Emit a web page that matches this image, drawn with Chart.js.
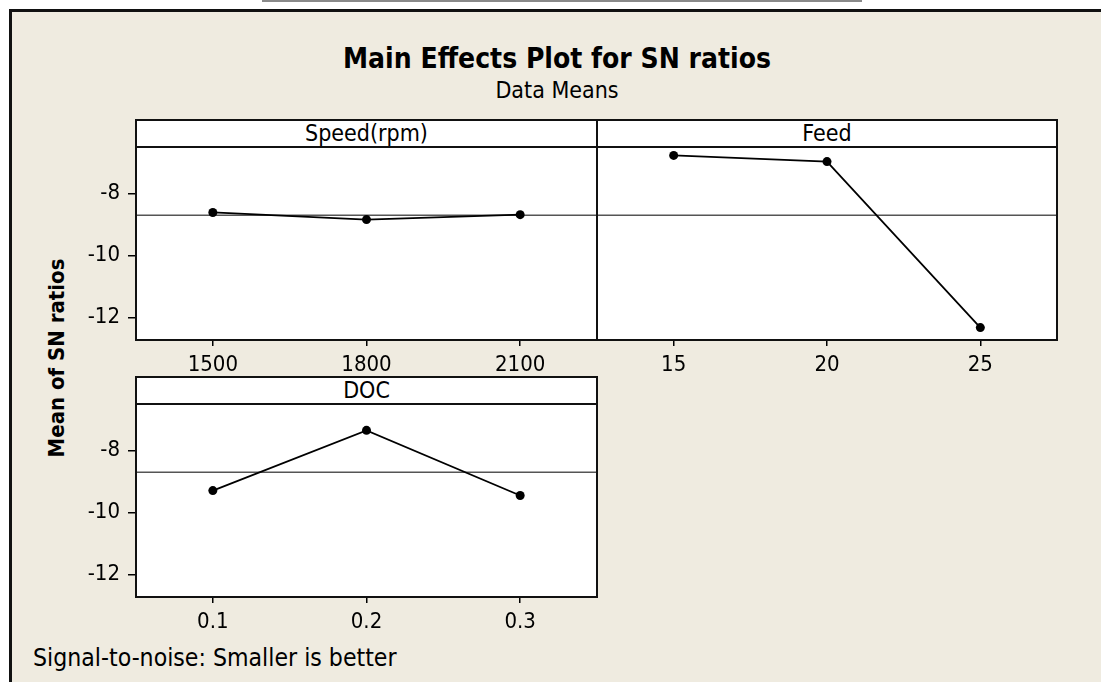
<!DOCTYPE html>
<html>
<head>
<meta charset="utf-8">
<script src="https://cdn.jsdelivr.net/npm/chart.js@4/dist/chart.umd.min.js"></script>
<style>
body{margin:0;background:#fff;width:1101px;height:682px;overflow:hidden;position:relative;font-family:'DejaVu Sans Condensed','DejaVu Sans',sans-serif;color:#000}
#topline{position:absolute;left:262px;top:0;width:600px;height:2px;background:#8a8a8a}
#frame{position:absolute;left:9px;top:9px;width:1200px;height:800px;border-left:3px solid #111;border-top:3px solid #111;background:#efebe0}
.hdr{position:absolute;background:#fff;border:2px solid #111;box-sizing:border-box;text-align:center;font-size:23px;line-height:25px;height:29px}
.txt{position:absolute;white-space:nowrap}
canvas{position:absolute}
</style>
</head>
<body>
<div id="topline"></div>
<div id="frame"></div>
<div class="txt" style="left:0;width:1114px;text-align:center;top:43px;line-height:32px;font-size:28px;font-weight:bold">Main Effects Plot for SN ratios</div>
<div class="txt" style="left:0;width:1114px;text-align:center;top:77px;line-height:26px;font-size:23px">Data Means</div>
<div class="txt" style="left:-73px;top:346px;width:260px;height:24px;line-height:24px;text-align:center;font-size:22px;font-weight:bold;transform:rotate(-90deg)">Mean of SN ratios</div>
<div class="txt" style="left:33px;top:644px;line-height:28px;font-size:24.6px">Signal-to-noise: Smaller is better</div>

<canvas id="speed"></canvas>
<canvas id="feed"></canvas>
<canvas id="doc"></canvas>

<div class="hdr" style="left:135px;top:119px;width:463px">Speed(rpm)</div>
<div class="hdr" style="left:596px;top:119px;width:462px">Feed</div>
<div class="hdr" style="left:135px;top:376px;width:463px">DOC</div>

<script>
const speedLevels = ['1500', '1800', '2100'];
const speedSN = [-8.61, -8.84, -8.68];
const feedLevels = ['15', '20', '25'];
const feedSN = [-6.77, -6.97, -12.32];
const docLevels = ['0.1', '0.2', '0.3'];
const docSN = [-9.29, -7.35, -9.45];
const yTicks = [-8, -10, -12];

const FONT = "'DejaVu Sans Condensed', 'DejaVu Sans', sans-serif";
const allSN = speedSN.concat(feedSN, docSN);
const grandMean = allSN.reduce((a, b) => a + b, 0) / allSN.length;

// white plot area, grand mean reference line, black box
const panelPlugin = {
    id: 'panel',
    beforeDraw(chart) {
        const a = chart.chartArea;
        const ctx = chart.ctx;
        ctx.save();
        ctx.fillStyle = '#fff';
        ctx.fillRect(a.left, a.top, a.right - a.left, a.bottom - a.top);
        ctx.restore();
    },
    beforeDatasetsDraw(chart) {
        const a = chart.chartArea;
        const ctx = chart.ctx;
        const py = chart.scales.y.getPixelForValue(grandMean);
        ctx.save();
        ctx.strokeStyle = '#555';
        ctx.lineWidth = 1.5;
        ctx.beginPath();
        ctx.moveTo(a.left, py);
        ctx.lineTo(a.right, py);
        ctx.stroke();
        ctx.restore();
    },
    afterDraw(chart) {
        const a = chart.chartArea;
        const ctx = chart.ctx;
        ctx.save();
        ctx.strokeStyle = '#111';
        ctx.lineWidth = 2;
        ctx.strokeRect(a.left, a.top, a.right - a.left, a.bottom - a.top);
        ctx.restore();
    }
};

function noPad(s) {
    s.paddingTop = 0;
    s.paddingBottom = 0;
    s.paddingLeft = 0;
    s.paddingRight = 0;
}

function makePanel(id, levels, values, box, showY) {
    const cv = document.getElementById(id);
    cv.width = box.r - box.l + 90;
    cv.height = box.b - box.t + 55;
    cv.style.left = (box.l - 80) + 'px';
    cv.style.top = (box.t - 10) + 'px';

    const yScale = {
        display: showY,
        min: -12.72,
        max: -6.5,
        afterBuildTicks(s) { s.ticks = yTicks.map(v => ({value: v})); },
        afterFit(s) {
            noPad(s);
            if (showY) s.width = 80;
        },
        ticks: {color: '#000', font: {family: FONT, size: 22}, padding: 8},
        grid: {drawOnChartArea: false, drawTicks: true, tickLength: 8, color: '#000', lineWidth: 1.5},
        border: {display: false}
    };

    return new Chart(cv, {
        type: 'line',
        data: {
            datasets: [{
                data: values.map((v, i) => ({x: i, y: v})),
                borderColor: '#000',
                borderWidth: 1.8,
                pointRadius: 4.5,
                pointBackgroundColor: '#000',
                pointBorderWidth: 0,
                tension: 0
            }]
        },
        options: {
            responsive: false,
            animation: false,
            devicePixelRatio: 1,
            layout: {padding: {top: 10, right: 10, left: showY ? 0 : 80, bottom: 0}},
            plugins: {legend: {display: false}, tooltip: {enabled: false}},
            scales: {
                x: {
                    type: 'linear',
                    min: -0.5,
                    max: 2.5,
                    afterFit(s) {
                        noPad(s);
                        s.height = 45;
                    },
                    afterBuildTicks(s) { s.ticks = levels.map((_, i) => ({value: i})); },
                    ticks: {
                        callback: (v) => levels[v],
                        color: '#000',
                        font: {family: FONT, size: 22},
                        padding: 6,
                        maxRotation: 0,
                        autoSkip: false
                    },
                    grid: {drawOnChartArea: false, drawTicks: true, tickLength: 6, color: '#000', lineWidth: 1.5},
                    border: {display: false}
                },
                y: yScale
            }
        },
        plugins: [panelPlugin]
    });
}

makePanel('speed', speedLevels, speedSN, {l: 136, t: 147, r: 597, b: 340}, true);
makePanel('feed', feedLevels, feedSN, {l: 597, t: 147, r: 1057, b: 340}, false);
makePanel('doc', docLevels, docSN, {l: 136, t: 404, r: 597, b: 597}, true);
</script>
</body>
</html>
